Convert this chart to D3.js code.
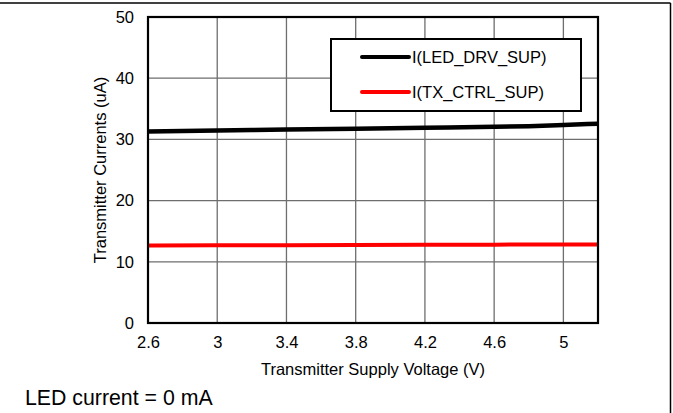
<!DOCTYPE html>
<html><head><meta charset="utf-8">
<script src="https://cdn.jsdelivr.net/npm/d3@7"></script>
<style>body{margin:0;background:#fff;} svg{display:block;font-family:"Liberation Sans",Arial,sans-serif;}</style>
</head><body>
<svg id="c" width="673" height="413"></svg>
<script>
const voltage = [2.6, 3.0, 3.4, 3.8, 4.2, 4.6, 4.8, 5.0, 5.2];
const ledDrvSup = [31.3, 31.45, 31.6, 31.75, 31.9, 32.05, 32.15, 32.35, 32.57];
const txCtrlSup = [12.65, 12.7, 12.72, 12.75, 12.78, 12.8, 12.82, 12.83, 12.84];
const xTicks = [2.6, 3, 3.4, 3.8, 4.2, 4.6, 5];
const yTicks = [0, 10, 20, 30, 40, 50];
const seriesNames = ["I(LED_DRV_SUP)", "I(TX_CTRL_SUP)"];
const seriesColors = ["#000000", "#ff0000"];

const svg = d3.select("#c");
const L = 148, R = 598, T = 17, B = 323;
const x = d3.scaleLinear().domain([2.6, 5.2]).range([L, R]);
const y = d3.scaleLinear().domain([0, 50]).range([B, T]);
const FS = 16.5;

// outer frame (top and right)
svg.append("line").attr("x1",0).attr("x2",670.5).attr("y1",3).attr("y2",3).attr("stroke","#000").attr("stroke-width",1.5);
svg.append("line").attr("x1",670.5).attr("x2",670.5).attr("y1",3).attr("y2",413).attr("stroke","#000").attr("stroke-width",1.5);

// grid
svg.append("g").selectAll("line").data(yTicks.slice(1,-1)).join("line")
  .attr("x1",L).attr("x2",R).attr("y1",d=>y(d)).attr("y2",d=>y(d))
  .attr("stroke","#6e6e6e").attr("stroke-width",1.3);
svg.append("g").selectAll("line").data(xTicks.slice(1)).join("line")
  .attr("y1",T).attr("y2",B).attr("x1",d=>x(d)).attr("x2",d=>x(d))
  .attr("stroke","#6e6e6e").attr("stroke-width",1.3);

// axes (labels only)
const xa = svg.append("g").attr("transform",`translate(0,${B})`)
  .call(d3.axisBottom(x).tickValues(xTicks).tickSize(0).tickPadding(13).tickFormat(d3.format("")));
xa.select(".domain").remove();
xa.selectAll("text").attr("font-size",FS).attr("fill","#000").attr("font-family","Liberation Sans, Arial, sans-serif");
const ya = svg.append("g").attr("transform",`translate(${L},0)`)
  .call(d3.axisLeft(y).tickValues(yTicks).tickSize(0).tickPadding(14));
ya.select(".domain").remove();
ya.selectAll("text").attr("font-size",FS).attr("fill","#000").attr("font-family","Liberation Sans, Arial, sans-serif");

// lines
const line = d3.line().x((d,i)=>x(voltage[i])).y(d=>y(d)).curve(d3.curveMonotoneX);
svg.append("path").datum(txCtrlSup).attr("d",line).attr("fill","none").attr("stroke",seriesColors[1]).attr("stroke-width",4);
svg.append("path").datum(ledDrvSup).attr("d",line).attr("fill","none").attr("stroke",seriesColors[0]).attr("stroke-width",4.5);

// plot frame
svg.append("rect").attr("x",L).attr("y",T).attr("width",R-L).attr("height",B-T)
  .attr("fill","none").attr("stroke","#000").attr("stroke-width",2.2);

// legend
const lg = svg.append("g");
lg.append("rect").attr("x",331).attr("y",39).attr("width",250).attr("height",72)
  .attr("fill","#fff").attr("stroke","#000").attr("stroke-width",2);
seriesNames.forEach((n,i)=>{
  const yy = 57 + i*35;
  lg.append("line").attr("x1",362).attr("x2",409).attr("y1",yy).attr("y2",yy)
    .attr("stroke",seriesColors[i]).attr("stroke-width",4).attr("stroke-linecap","round");
  lg.append("text").attr("x",412).attr("y",yy+6).attr("font-size",FS).text(n);
});

// axis titles
svg.append("text").attr("x",373).attr("y",375).attr("text-anchor","middle").attr("font-size",FS).text("Transmitter Supply Voltage (V)");
svg.append("text").attr("transform","translate(106,170) rotate(-90)").attr("text-anchor","middle").attr("font-size",FS).text("Transmitter Currents (uA)");

// note
svg.append("text").attr("x",25).attr("y",405).attr("font-size",21.3).text("LED current = 0 mA");
</script>
</body></html>
